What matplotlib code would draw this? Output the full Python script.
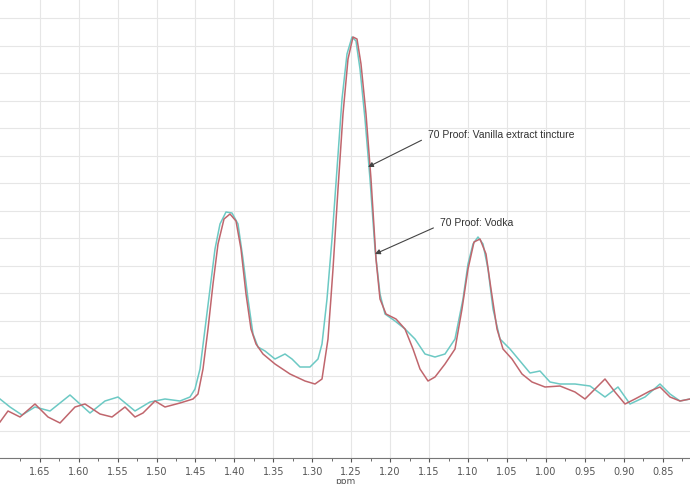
import numpy as np
import matplotlib
matplotlib.use("Agg")
import matplotlib.pyplot as plt

# readings: horizontal position along the ppm axis (px from left) and signal height
teal_x = [0,10,22,35,50,70,90,105,118,135,150,165,180,190,195,200,205,210,215,220,226,232,238,243,248,253,258,265,275,285,292,300,310,318,322,327,332,337,342,347,352,356,360,365,370,375,380,385,395,405,415,425,435,445,455,463,468,473,478,483,488,493,500,510,520,530,540,550,560,575,590,605,618,630,645,660,670,680,690]
teal_y = [400,408,416,408,412,396,414,402,398,412,403,400,402,398,390,370,330,290,250,225,213,214,225,260,300,335,348,352,360,355,360,368,368,360,345,300,240,170,100,55,38,42,70,120,180,250,295,315,322,330,340,355,358,355,340,300,265,245,238,245,270,310,340,350,362,374,372,383,385,385,387,398,388,405,398,385,395,402,400]
red_x = [0,8,20,35,48,60,75,85,100,112,125,135,143,155,165,180,193,198,203,208,213,218,224,230,236,241,246,251,256,263,275,290,305,315,322,328,333,338,343,348,353,357,361,366,371,376,380,386,396,405,413,420,428,435,445,455,462,468,474,480,486,491,497,503,512,522,532,545,560,575,585,595,605,615,625,635,650,660,670,680,690]
red_y = [423,412,418,405,418,424,408,405,415,418,408,418,414,402,408,404,400,395,370,330,285,245,220,215,222,250,295,330,345,355,365,375,382,385,380,340,270,190,115,60,38,40,65,115,180,260,300,315,320,330,350,370,382,378,365,350,310,270,243,240,255,290,330,350,360,375,383,388,387,393,400,390,380,393,405,400,392,388,398,402,400]

ppm_teal = 1.701 - np.array(teal_x) / 778.75
ppm_red = 1.701 - np.array(red_x) / 778.75
int_teal = 459 - np.array(teal_y)
int_red = 459 - np.array(red_y)

fig = plt.figure(figsize=(6.9, 4.85), dpi=100)
ax = fig.add_axes([0, 26/485, 1, 459/485])
ax.plot(ppm_teal, int_teal, color="#6cc9c4", lw=1.1)
ax.plot(ppm_red, int_red, color="#c0666d", lw=1.1)
ax.set_xlim(1.701, 1.701 - 690/778.75)
ax.set_ylim(0, 459)
ax.set_xticks(np.arange(1.65, 0.84, -0.05))
ax.set_xticks(np.arange(1.675, 0.81, -0.05), minor=True)
ax.set_xticklabels([f"{v:.2f}" for v in np.arange(1.65, 0.84, -0.05)])
ax.set_yticks(np.arange(0, 459, 27.5))
ax.tick_params(axis="y", left=False, labelleft=False)
ax.tick_params(axis="x", labelsize=7, colors="#555555", length=3, pad=3)
ax.tick_params(axis="x", which="minor", length=2, colors="#555555")
ax.grid(True, color="#e6e6e6", lw=0.8)
for s in ["left", "right", "top"]:
    ax.spines[s].set_visible(False)
ax.spines["bottom"].set_color("#777777")
ax.set_xlabel("ppm", fontsize=6.5, color="#555555", labelpad=0)

ax.annotate("70 Proof: Vanilla extract tincture", xy=(368, 485-168), xycoords="figure pixels",
            xytext=(428, 485-138), textcoords="figure pixels", fontsize=7.5, color="#333333",
            family="Liberation Sans",
            arrowprops=dict(arrowstyle="-|>", color="#444444", lw=0.8, shrinkA=3, shrinkB=0,
                            relpos=(0, 0.2)))
ax.annotate("70 Proof: Vodka", xy=(375, 485-255), xycoords="figure pixels",
            xytext=(440, 485-226), textcoords="figure pixels", fontsize=7.5, color="#333333",
            family="Liberation Sans",
            arrowprops=dict(arrowstyle="-|>", color="#444444", lw=0.8, shrinkA=3, shrinkB=0,
                            relpos=(0, 0.2)))
fig.savefig("out.png", dpi=100)
